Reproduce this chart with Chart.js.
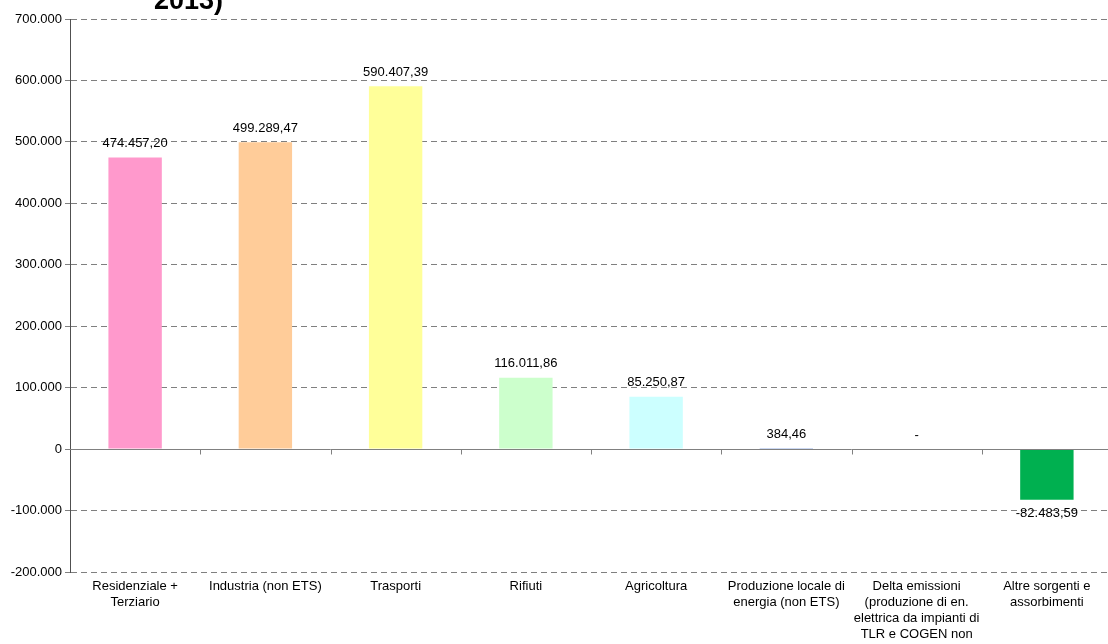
<!DOCTYPE html>
<html>
<head>
<meta charset="utf-8">
<script src="https://cdn.jsdelivr.net/npm/chart.js@4/dist/chart.umd.min.js"></script>
<style>
  html, body { margin: 0; padding: 0; background: #fff; overflow: hidden; }
  body { width: 1108px; height: 644px; position: relative; }
  #wrap { position: absolute; left: 0; top: 0; width: 1112px; height: 644px; }
  #title { position: absolute; left: 154px; top: -15px; font: bold 27px "Liberation Sans", Arial, sans-serif; color: #000; }
</style>
</head>
<body>
<div id="wrap"><canvas id="chart"></canvas></div>
<div id="title">2013)</div>
<script>
const categories = [
  ["Residenziale +", "Terziario"],
  ["Industria (non ETS)"],
  ["Trasporti"],
  ["Rifiuti"],
  ["Agricoltura"],
  ["Produzione locale di", "energia (non ETS)"],
  ["Delta emissioni", "(produzione di en.", "elettrica da impianti di", "TLR e COGEN non", "ETS)"],
  ["Altre sorgenti e", "assorbimenti"]
];
const values = [474457.20, 499289.47, 590407.39, 116011.86, 85250.87, 384.46, 0, -82483.59];
const barColors = ["#FF99CC", "#FFCC99", "#FFFF99", "#CCFFCC", "#CCFFFF", "#3366CC", "#FFFFFF", "#00B050"];
const yMin = -200000, yMax = 700000, yStep = 100000;

function fmtInt(n) {
  return Math.abs(n).toFixed(0).replace(/\B(?=(\d{3})+(?!\d))/g, ".");
}
function fmtTick(v) {
  if (v === 0) return "0";
  return (v < 0 ? "-" : "") + fmtInt(v);
}
function fmtValue(v) {
  if (v === 0) return "-";
  const parts = Math.abs(v).toFixed(2).split(".");
  return (v < 0 ? "-" : "") + parts[0].replace(/\B(?=(\d{3})+(?!\d))/g, ".") + "," + parts[1];
}

const FONT = "'Liberation Sans', Arial, sans-serif";

// zero line with the small category ticks on it
const zeroLine = {
  id: "zeroLine",
  afterDraw(chart) {
    const { ctx, chartArea, scales } = chart;
    const y0 = Math.round(scales.y.getPixelForValue(0)) + 0.5;
    ctx.save();
    ctx.strokeStyle = "#808080";
    ctx.lineWidth = 1;
    ctx.beginPath();
    ctx.moveTo(chartArea.left, y0);
    ctx.lineTo(chartArea.right, y0);
    const n = categories.length;
    for (let i = 1; i < n; i++) {
      const x = Math.round((scales.x.getPixelForValue(i - 1) + scales.x.getPixelForValue(i)) / 2) + 0.5;
      ctx.moveTo(x, y0);
      ctx.lineTo(x, y0 + 5);
    }
    ctx.stroke();
    ctx.restore();
  }
};

// value labels above / below bars
const valueLabels = {
  id: "valueLabels",
  afterDatasetsDraw(chart) {
    const { ctx } = chart;
    const meta = chart.getDatasetMeta(0);
    ctx.save();
    ctx.font = "13px " + FONT;
    ctx.fillStyle = "#000";
    ctx.textAlign = "center";
    ctx.textBaseline = "middle";
    meta.data.forEach((bar, i) => {
      const v = values[i];
      const y = v < 0 ? bar.y + 14 : bar.y - 14;
      ctx.fillText(fmtValue(v), bar.x, y);
    });
    ctx.restore();
  }
};

new Chart(document.getElementById("chart"), {
  type: "bar",
  data: {
    labels: categories,
    datasets: [{
      data: values,
      backgroundColor: barColors,
      borderWidth: 0,
      barPercentage: 0.41,
      categoryPercentage: 1
    }]
  },
  options: {
    responsive: true,
    maintainAspectRatio: false,
    animation: false,
    layout: { padding: { top: 19, right: 0, left: 0, bottom: 0 } },
    plugins: {
      legend: { display: false },
      tooltip: { enabled: false }
    },
    scales: {
      x: {
        position: "bottom",
        grid: { display: false },
        border: { display: false },
        ticks: {
          color: "#000",
          font: { family: FONT, size: 13, lineHeight: 1.23 },
          maxRotation: 0,
          autoSkip: false,
          padding: -2
        },
        afterFit(scale) { scale.height = 72; }
      },
      y: {
        min: yMin,
        max: yMax,
        grid: {
          color: (c) => c.tick && c.tick.value === 0 ? "rgba(0,0,0,0)" : "#7f7f7f",
          lineWidth: 1,
          drawTicks: true,
          tickLength: 5,
          tickColor: "#7f7f7f"
        },
        border: { display: true, color: "#505050", dash: [6, 4] },
        ticks: {
          stepSize: yStep,
          color: "#000",
          font: { family: FONT, size: 13 },
          padding: 3,
          callback: (v) => fmtTick(v)
        },
        afterFit(scale) { scale.width = 70; }
      }
    }
  },
  plugins: [zeroLine, valueLabels]
});
</script>
</body>
</html>
